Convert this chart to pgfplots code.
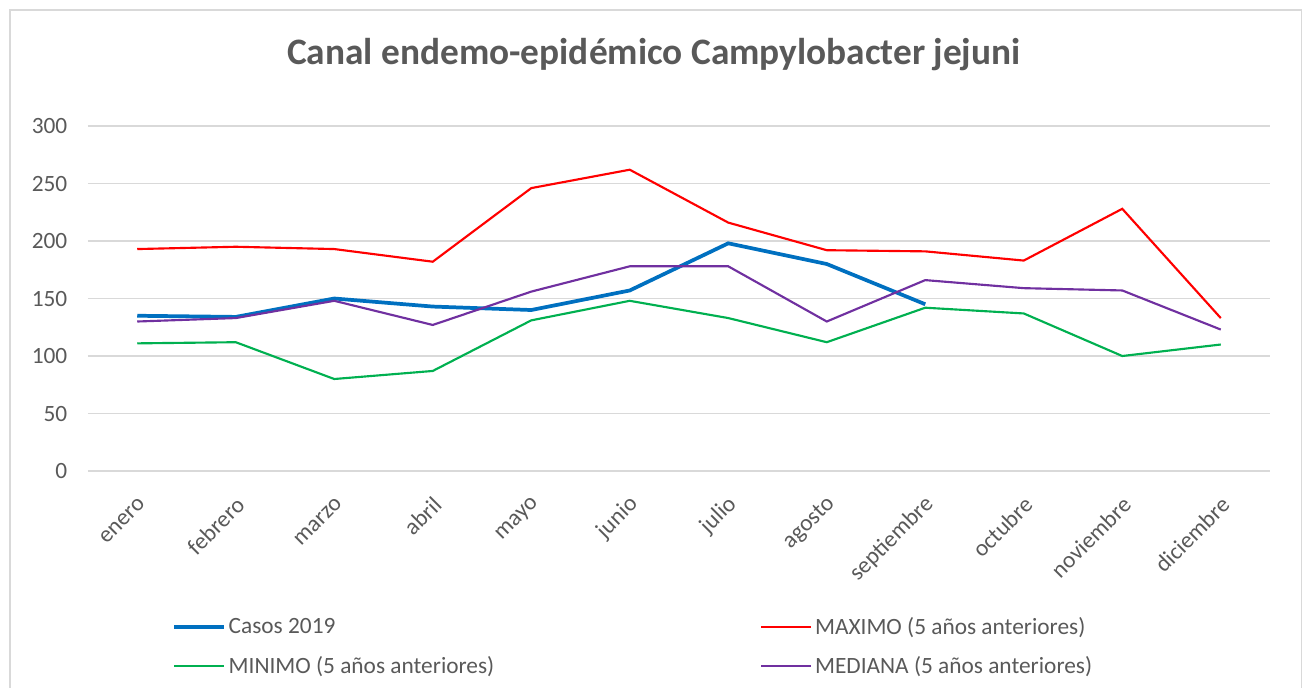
\documentclass[border=0pt]{standalone}
\usepackage{pgfplots}
\pgfplotsset{compat=1.18}
\usepackage{fontspec}
\setmainfont{Carlito}

\definecolor{txtgray}{HTML}{595959}
\definecolor{gridgray}{HTML}{D9D9D9}
\definecolor{casos}{HTML}{0070C0}
\definecolor{maximo}{HTML}{FF0000}
\definecolor{minimo}{HTML}{00B050}
\definecolor{mediana}{HTML}{7030A0}

\begin{document}
\begin{tikzpicture}
% 1 px of the reference = 0.75pt; origin = south west corner of the plot area
\useasboundingbox (-66pt,-162pt) rectangle (915pt,353.25pt);
\draw[gridgray, line width=1pt] (-58.5pt,-175pt) -- (-58.5pt,345.75pt) -- (910pt,345.75pt) -- (910pt,-175pt);
\begin{axis}[
    at={(0,0)}, anchor=south west,
    scale only axis,
    width=886.5pt, height=258.75pt,
    xmin=-0.5, xmax=11.5,
    ymin=0, ymax=300,
    xtick={0,...,11},
    xticklabels={enero,febrero,marzo,abril,mayo,junio,julio,agosto,septiembre,octubre,noviembre,diciembre},
    ytick={0,50,...,300},
    axis line style={draw=none},
    major tick length=0pt,
    ymajorgrids,
    grid style={gridgray, line width=1.2pt},
    tick label style={font=\fontsize{17.5}{21}\selectfont, text=txtgray},
    /pgf/number format/assume math mode=true,
    yticklabel style={xshift=-12pt},
    xticklabel style={xshift=6pt, yshift=-20pt, rotate=45, anchor=east},
    title={Canal endemo-epidémico Campylobacter jejuni},
    title style={at={(0.4788,1.185)}, anchor=center, font=\fontsize{28}{33}\selectfont\bfseries, text=txtgray},
    legend columns=2,
    legend cell align=left,
    legend style={draw=none, fill=none, at={(0.0677,-0.409)}, anchor=north west,
        font=\fontsize{17.5}{21}\selectfont, text=txtgray,
        /tikz/every even column/.append style={column sep=197.5pt},
        row sep=10.5pt},
    legend image code/.code={\draw[#1] (0pt,0pt) -- (37.5pt,0pt);},
]
\addplot[casos, line width=2.8pt] coordinates {
    (0,135) (1,134) (2,150) (3,143) (4,140) (5,157) (6,198) (7,180) (8,145)
};
\addlegendentry{Casos 2019}
\addplot[maximo, line width=1.6pt] coordinates {
    (0,193) (1,195) (2,193) (3,182) (4,246) (5,262) (6,216) (7,192) (8,191) (9,183) (10,228) (11,133)
};
\addlegendentry{MAXIMO (5 años anteriores)}
\addplot[minimo, line width=1.6pt] coordinates {
    (0,111) (1,112) (2,80) (3,87) (4,131) (5,148) (6,133) (7,112) (8,142) (9,137) (10,100) (11,110)
};
\addlegendentry{MINIMO (5 años anteriores)}
\addplot[mediana, line width=1.6pt] coordinates {
    (0,130) (1,133) (2,148) (3,127) (4,156) (5,178) (6,178) (7,130) (8,166) (9,159) (10,157) (11,123)
};
\addlegendentry{MEDIANA (5 años anteriores)}
\end{axis}
\end{tikzpicture}
\end{document}
